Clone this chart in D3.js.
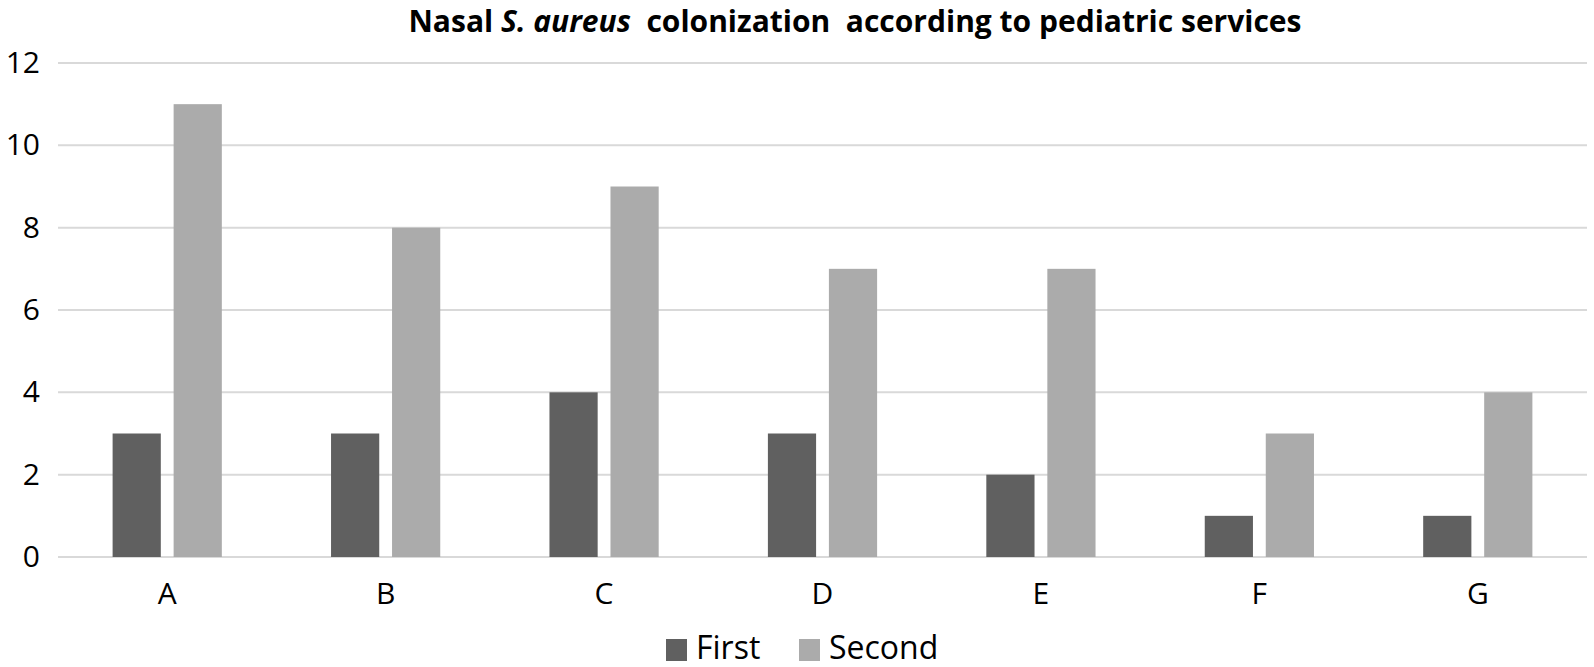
<!DOCTYPE html>
<html lang="en">
<head>
  <meta charset="UTF-8">
  <title>Nasal S. aureus colonization</title>
  <style>
    body { margin: 0; background: #fff; }
    svg { font-family: "Open Sans", sans-serif; }
    .grid line { stroke: #d9d9d9; stroke-width: 2px; }
    .tick text { fill: #000; }
  </style>
</head>
<body>
  <script src="https://d3js.org/d3.v7.min.js"></script>
  <script>
    // data
    const categories = ["A", "B", "C", "D", "E", "F", "G"];
    const series = ["First", "Second"];
    const firstValues = [3, 3, 4, 3, 2, 1, 1];
    const secondValues = [11, 8, 9, 7, 7, 3, 4];
    const yTicks = [0, 2, 4, 6, 8, 10, 12];
    const colors = ["#606060", "#ababab"];

    const width = 1594, height = 667;
    const margin = {top: 63, right: 7, bottom: 110, left: 58};

    const svg = d3.select("body").append("svg")
      .attr("width", width)
      .attr("height", height);

    const x = d3.scaleBand()
      .domain(categories)
      .range([margin.left, width - margin.right])
      .paddingInner(0.5)
      .paddingOuter(0.25);

    const xSub = d3.scaleBand()
      .domain(series)
      .range([0, x.bandwidth()])
      .paddingInner(0.21);

    const y = d3.scaleLinear()
      .domain([0, 12])
      .range([height - margin.bottom, margin.top]);

    const color = d3.scaleOrdinal().domain(series).range(colors);

    // gridlines
    svg.append("g")
      .attr("class", "grid")
      .selectAll("line")
      .data(yTicks)
      .join("line")
        .attr("x1", margin.left)
        .attr("x2", width - margin.right)
        .attr("y1", d => y(d))
        .attr("y2", d => y(d));

    // y axis labels
    const yAxis = svg.append("g")
      .attr("transform", `translate(${margin.left},0)`)
      .call(d3.axisLeft(y).tickValues(yTicks).tickSize(0).tickPadding(18));
    yAxis.select(".domain").remove();
    yAxis.selectAll("text").attr("font-size", 30).attr("font-family", "Open Sans, sans-serif");

    // bars
    const rows = categories.map((c, i) => ({cat: c, vals: [firstValues[i], secondValues[i]]}));
    svg.append("g")
      .selectAll("g")
      .data(rows)
      .join("g")
        .attr("transform", d => `translate(${x(d.cat)},0)`)
      .selectAll("rect")
      .data(d => series.map((s, j) => ({key: s, value: d.vals[j]})))
      .join("rect")
        .attr("x", d => xSub(d.key))
        .attr("width", xSub.bandwidth())
        .attr("y", d => y(d.value))
        .attr("height", d => y(0) - y(d.value))
        .attr("fill", d => color(d.key));

    // x axis labels
    const xAxis = svg.append("g")
      .attr("transform", `translate(0,${y(0)})`)
      .call(d3.axisBottom(x).tickSize(0).tickPadding(26));
    xAxis.select(".domain").remove();
    xAxis.selectAll("text").attr("font-size", 30).attr("font-family", "Open Sans, sans-serif");

    // title
    const title = svg.append("text")
      .attr("x", 855)
      .attr("y", 32)
      .attr("text-anchor", "middle")
      .attr("font-size", 30)
      .attr("font-weight", "bold")
      .attr("fill", "#000");
    title.append("tspan").text("Nasal ");
    title.append("tspan").attr("font-style", "italic").text("S. aureus");
    title.append("tspan").attr("xml:space", "preserve").text("  colonization  according to pediatric services");

    // legend
    const legendX = [666, 799];
    const legend = svg.append("g");
    legend.selectAll("rect")
      .data(series)
      .join("rect")
        .attr("x", (d, i) => legendX[i])
        .attr("y", 639)
        .attr("width", 21)
        .attr("height", 22)
        .attr("fill", d => color(d));
    legend.selectAll("text")
      .data(series)
      .join("text")
        .attr("x", (d, i) => legendX[i] + 30)
        .attr("y", 659)
        .attr("font-size", 32)
        .attr("fill", "#000")
        .text(d => d);
  </script>
</body>
</html>
